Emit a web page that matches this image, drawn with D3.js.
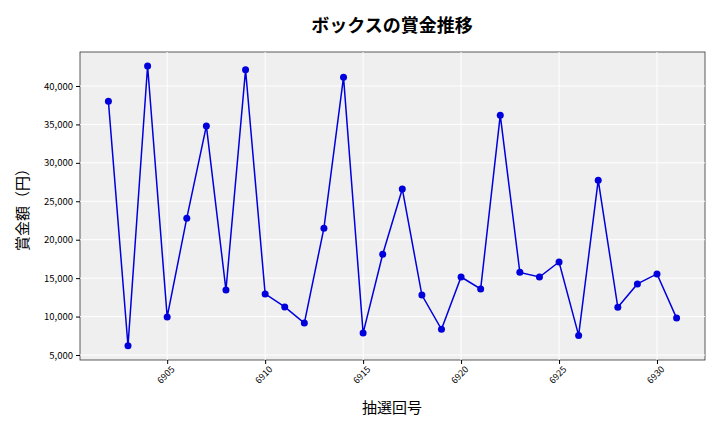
<!DOCTYPE html>
<html><head><meta charset="utf-8">
<script src="https://cdn.jsdelivr.net/npm/d3@7"></script>
<style>body{margin:0;background:#fff}text{font-family:"Noto Sans CJK JP","Noto Sans",sans-serif}</style>
</head><body><svg id="c" width="720" height="432"></svg>
<script>
const draws=[6902,6903,6904,6905,6906,6907,6908,6909,6910,6911,6912,6913,6914,6915,6916,6917,6918,6919,6920,6921,6922,6923,6924,6925,6926,6927,6928,6929,6930,6931];
const prizes=[38000,6200,42600,9950,22800,34800,13450,42100,12950,11250,9150,21500,41150,7850,18100,26600,12800,8350,15150,13600,36200,15750,15150,17100,7550,27750,11200,14250,15550,9800];
const xTicks=[6905,6910,6915,6920,6925,6930];
const yTicks=[5000,10000,15000,20000,25000,30000,35000,40000];
const L=80,R=705,T=52,B=360;
const svg=d3.select("#c");
const x=d3.scaleLinear().domain([6900.55,6932.45]).range([L,R]);
const y=d3.scaleLinear().domain([4350,44420]).range([B,T]);
svg.append("rect").attr("x",L).attr("y",T).attr("width",R-L).attr("height",B-T).attr("fill","#efefef").attr("stroke","#333").attr("stroke-width",0.8);
const g=svg.append("g");
xTicks.forEach(t=>g.append("line").attr("x1",x(t)).attr("x2",x(t)).attr("y1",T).attr("y2",B).attr("stroke","#fff"));
yTicks.forEach(t=>g.append("line").attr("x1",L).attr("x2",R).attr("y1",y(t)).attr("y2",y(t)).attr("stroke","#fff"));
const xa=svg.append("g").attr("transform",`translate(0,${B})`).call(d3.axisBottom(x).tickValues(xTicks).tickFormat(d3.format("d")).tickSize(4));
xa.select(".domain").remove();
xa.selectAll("text").attr("font-size",9).attr("transform","rotate(-45)").attr("text-anchor","end").attr("dx","-0.2em").attr("dy","0.6em");
const ya=svg.append("g").attr("transform",`translate(${L},0)`).call(d3.axisLeft(y).tickValues(yTicks).tickFormat(d3.format(",")).tickSize(4));
ya.select(".domain").remove();
ya.selectAll("text").attr("font-size",9.5);
svg.append("path").datum(prizes).attr("fill","none").attr("stroke","#0000dd").attr("stroke-width",1.5)
 .attr("d",d3.line().x((d,i)=>x(draws[i])).y(d=>y(d)));
svg.selectAll("circle").data(prizes).join("circle").attr("cx",(d,i)=>x(draws[i])).attr("cy",d=>y(d)).attr("r",3.5).attr("fill","#0000dd");
svg.append("text").attr("x",392).attr("y",32).attr("text-anchor","middle").attr("font-size",18).attr("font-weight","bold").text("ボックスの賞金推移");
svg.append("text").attr("x",392).attr("y",413).attr("text-anchor","middle").attr("font-size",15).text("抽選回号");
svg.append("text").attr("transform","translate(28,206) rotate(-90)").attr("text-anchor","middle").attr("font-size",15).text("賞金額（円）");
</script></body></html>
